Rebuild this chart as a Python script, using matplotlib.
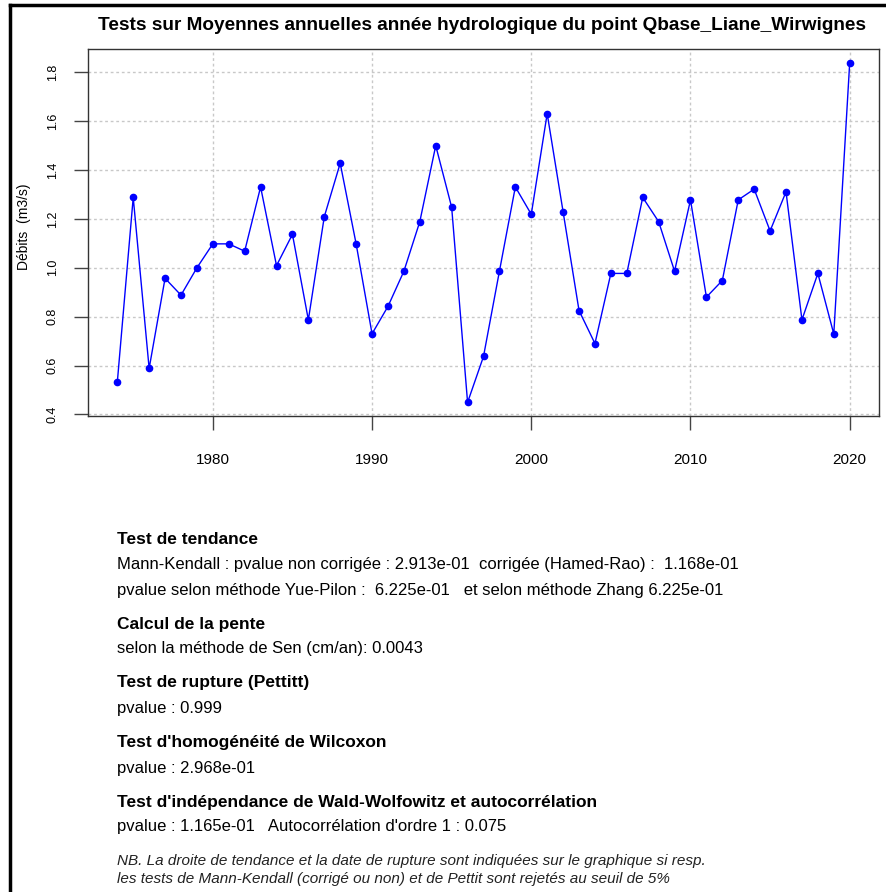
import matplotlib
matplotlib.use("Agg")
import matplotlib.pyplot as plt
from matplotlib.lines import Line2D

plt.rcParams["font.family"] = ["Liberation Sans", "DejaVu Sans"]

# ============================================================
# DONNEES
# ============================================================

annees = list(range(1974, 2021))
debits = [
    0.531, 1.288, 0.588, 0.957, 0.888, 1.000, 1.098, 1.098, 1.068, 1.331,
    1.009, 1.137, 0.787, 1.209, 1.428, 1.098, 0.730, 0.842, 0.986, 1.189,
    1.500, 1.248, 0.449, 0.637, 0.986, 1.331, 1.219, 1.631, 1.229, 0.825,
    0.690, 0.977, 0.977, 1.288, 1.189, 0.986, 1.278, 0.880, 0.948, 1.278,
    1.322, 1.151, 1.311, 0.787, 0.977, 0.729, 1.840,
]
xticks = [1980, 1990, 2000, 2010, 2020]
yticks = [0.4, 0.6, 0.8, 1.0, 1.2, 1.4, 1.6, 1.8]

titre = "Tests sur Moyennes annuelles année hydrologique du point Qbase_Liane_Wirwignes"

lignes = [
    ("Test de tendance", "bold", 540),
    ("Mann-Kendall : pvalue non corrigée : 2.913e-01  corrigée (Hamed-Rao) :  1.168e-01", "normal", 564),
    ("pvalue selon méthode Yue-Pilon :  6.225e-01   et selon méthode Zhang 6.225e-01", "normal", 590),
    ("Calcul de la pente", "bold", 624),
    ("selon la méthode de Sen (cm/an): 0.0043", "normal", 649),
    ("Test de rupture (Pettitt)", "bold", 683),
    ("pvalue : 0.999", "normal", 708),
    ("Test d'homogénéité de Wilcoxon", "bold", 743),
    ("pvalue : 2.968e-01", "normal", 768),
    ("Test d'indépendance de Wald-Wolfowitz et autocorrélation", "bold", 802),
    ("pvalue : 1.165e-01   Autocorrélation d'ordre 1 : 0.075", "normal", 827),
]
note = [
    ("NB. La droite de tendance et la date de rupture sont indiquées sur le graphique si resp.", 861),
    ("les tests de Mann-Kendall (corrigé ou non) et de Pettit sont rejetés au seuil de 5%", 879),
]

# ============================================================
# FIGURE
# ============================================================

W, H = 887, 892
fig = plt.figure(figsize=(W / 100, H / 100), dpi=100)


def fx(x):
    return x / W


def fy(y):
    return 1 - y / H


ax = fig.add_axes([fx(88), fy(416), fx(879) - fx(88), fy(49) - fy(416)])

ax.plot(annees, debits, color="blue", linewidth=1, marker="o", markersize=4.5)

xr = max(annees) - min(annees)
ax.set_xlim(min(annees) - 0.04 * xr, max(annees) + 0.04 * xr)
yr = max(debits) - min(debits)
ax.set_ylim(min(debits) - 0.04 * yr, max(debits) + 0.04 * yr)

ax.set_xticks(xticks)
ax.set_yticks(yticks)
ax.set_yticklabels([f"{v:.1f}" for v in yticks], rotation=90, va="center")
ax.tick_params(axis="both", length=10, width=1, color="#444444", pad=11)
ax.tick_params(axis="y", labelsize=9)
ax.tick_params(axis="x", labelsize=11, pad=17)
ax.grid(True, color="#c8c8c8", linestyle=(0, (2, 2)), linewidth=1)
for s in ax.spines.values():
    s.set_color("#333333")
    s.set_linewidth(1)

fig.text(fx(24), fy(227), "Débits  (m3/s)", rotation=90, ha="center", va="center", fontsize=10)
fig.text(fx(482), fy(25), titre, ha="center", va="center", fontsize=13.7, fontweight="bold")

for texte, poids, y in lignes:
    fig.text(fx(117), fy(y), texte, ha="left", va="center",
             fontsize=12.5 if poids == "bold" else 12, fontweight=poids)
for texte, y in note:
    fig.text(fx(117), fy(y), texte, ha="left", va="center", fontsize=11, style="italic",
             color="#222222")

# cadre de la figure
fig.add_artist(Line2D([fx(10), fx(10)], [0, fy(5)], color="black", linewidth=2.5))
fig.add_artist(Line2D([fx(10), 1], [fy(5), fy(5)], color="black", linewidth=2.5))

fig.savefig("out.png", dpi=100)
